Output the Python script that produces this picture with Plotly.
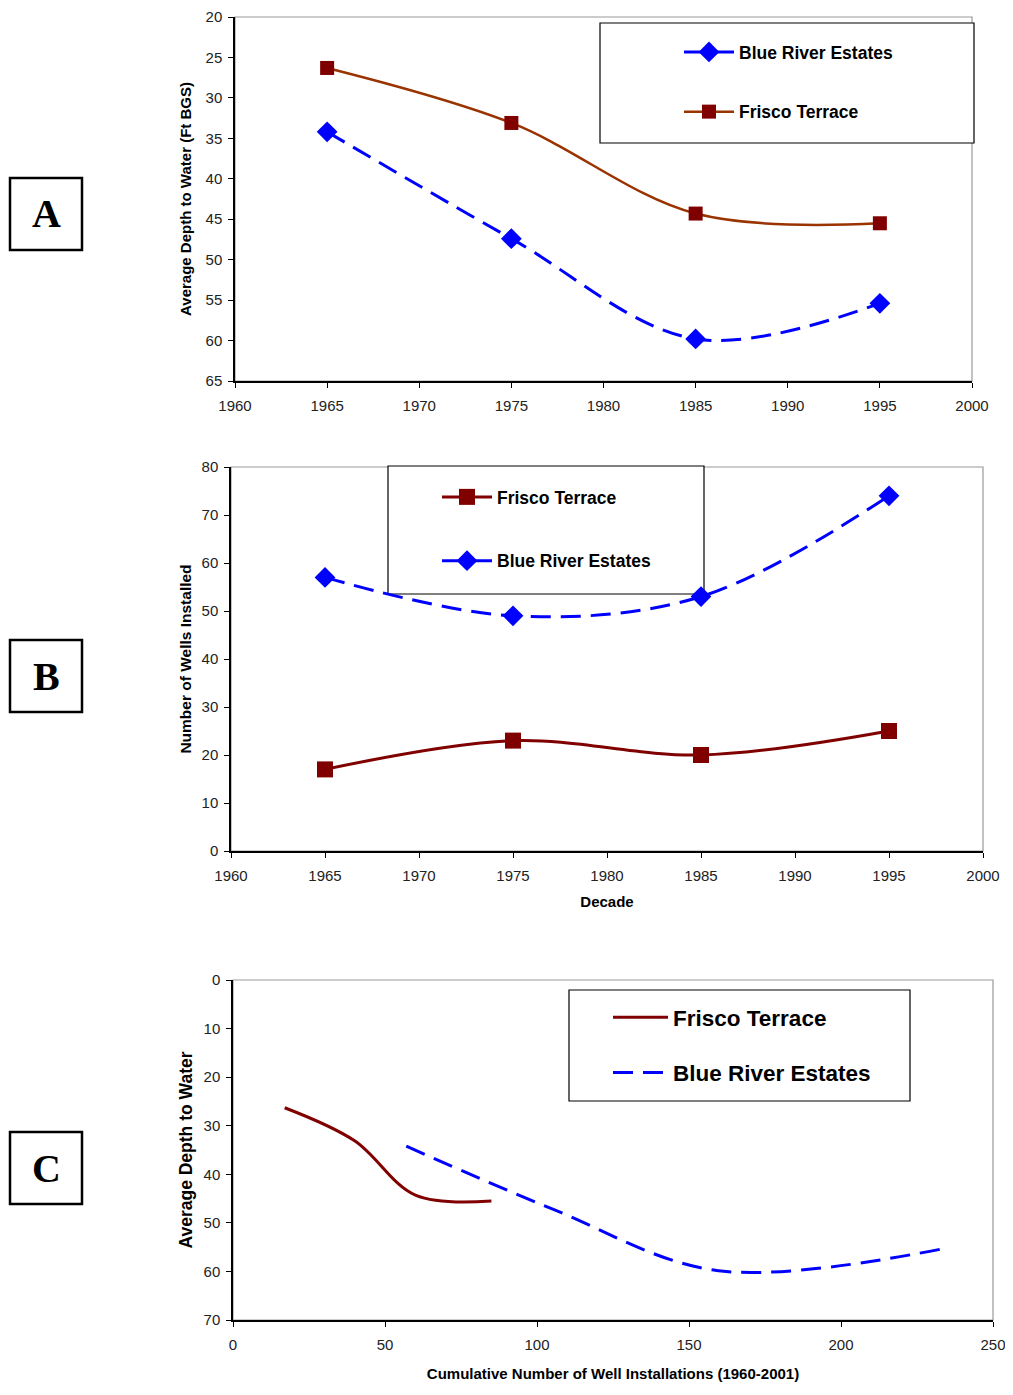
import plotly.graph_objects as go

# ---------------- data ----------------
years = [1965, 1975, 1985, 1995]
depth_blue = [34.2, 47.4, 59.8, 55.4]
depth_frisco = [26.3, 33.1, 44.3, 45.5]
wells_frisco = [17, 23, 20, 25]
wells_blue = [57, 49, 53, 74]

def cumsum(v):
    out, s = [], 0
    for x in v:
        s += x
        out.append(s)
    return out

cum_frisco = cumsum(wells_frisco)
cum_blue = cumsum(wells_blue)

# page body has an 8px margin; lay out in page pixel coordinates
OFF = 8
W, H = 1013 - 2 * OFF, 1395 - 2 * OFF
def px(x):
    return (x - OFF) / W
def py(y):
    return 1 - (y - OFF) / H

BLUE = "#0000FF"
MAROON = "#800000"
BROWN = "#993300"
DASH = "20px,10px"
FONT = "Liberation Sans, Arial, sans-serif"

fig = go.Figure()

# ---------- Panel A ----------
fig.add_trace(go.Scatter(
    x=years, y=depth_blue, name="Blue River Estates", xaxis="x", yaxis="y",
    mode="lines+markers", line=dict(color=BLUE, width=3, dash=DASH, shape="spline", smoothing=1),
    marker=dict(symbol="diamond", size=16, color=BLUE), legend="legend", legendgroup="a1"))
fig.add_trace(go.Scatter(
    x=years, y=depth_frisco, name="Frisco Terrace", xaxis="x", yaxis="y",
    mode="lines+markers", line=dict(color=BROWN, width=2.5, shape="spline", smoothing=1),
    marker=dict(symbol="square", size=14, color=MAROON), legend="legend", legendgroup="a2"))

# ---------- Panel B ----------
fig.add_trace(go.Scatter(
    x=years, y=wells_frisco, name="Frisco Terrace", xaxis="x2", yaxis="y2",
    mode="lines+markers", line=dict(color=MAROON, width=3, shape="spline", smoothing=1),
    marker=dict(symbol="square", size=16, color=MAROON), legend="legend2", legendgroup="b1"))
fig.add_trace(go.Scatter(
    x=years, y=wells_blue, name="Blue River Estates", xaxis="x2", yaxis="y2",
    mode="lines+markers", line=dict(color=BLUE, width=3, dash=DASH, shape="spline", smoothing=1),
    marker=dict(symbol="diamond", size=16, color=BLUE), legend="legend2", legendgroup="b2"))

# ---------- Panel C ----------
fig.add_trace(go.Scatter(
    x=cum_frisco, y=depth_frisco, name="Frisco Terrace", xaxis="x3", yaxis="y3",
    mode="lines", line=dict(color=MAROON, width=3, shape="spline", smoothing=1),
    legend="legend3", legendgroup="c1"))
fig.add_trace(go.Scatter(
    x=cum_blue, y=depth_blue, name="Blue River Estates", xaxis="x3", yaxis="y3",
    mode="lines", line=dict(color=BLUE, width=3, dash=DASH, shape="spline", smoothing=1),
    legend="legend3", legendgroup="c2"))

tickfont = dict(family=FONT, size=15, color="#222")

def xax(domain, anchor, rng, dtick, title=None, standoff=12):
    d = dict(domain=domain, anchor=anchor, range=rng, dtick=dtick, tick0=0, automargin=False,
             showgrid=False, zeroline=False, showline=True, linecolor="#000", linewidth=1.5,
             ticks="outside", ticklen=5, tickcolor="#000", tickfont=tickfont,
             ticklabeloverflow="allow", ticklabelstandoff=5)
    if title:
        d["title"] = dict(text=title, font=dict(family=FONT, size=15, color="#000", weight="bold"),
                          standoff=standoff)
    return d

def yax(domain, anchor, rng, dtick, title, tsize=15, standoff=10):
    return dict(domain=domain, anchor=anchor, range=rng, dtick=dtick, tick0=0, automargin=False,
                showgrid=False, zeroline=False, showline=True, linecolor="#000", linewidth=1.5,
                ticks="outside", ticklen=5, tickcolor="#000", tickfont=tickfont,
                ticklabeloverflow="allow", ticklabelstandoff=3,
                title=dict(text=title, font=dict(family=FONT, size=tsize, color="#000", weight="bold"),
                           standoff=standoff))

legfont = dict(family=FONT, size=17.5, color="#000", weight="bold")
legfontC = dict(family=FONT, size=22.5, color="#000", weight="bold")

fig.update_layout(
    width=W, height=H, margin=dict(l=0, r=0, t=0, b=0, autoexpand=False),
    paper_bgcolor="white", plot_bgcolor="white",
    xaxis=xax([px(235), px(972)], "y", [1960, 2000], 5),
    yaxis=yax([py(381), py(17)], "x", [65, 20], 5, "Average Depth to Water (Ft BGS)", 15, 10),
    xaxis2=xax([px(231), px(983)], "y2", [1960, 2000], 5, "Decade", 14),
    yaxis2=yax([py(851), py(467)], "x2", [0, 80], 10, "Number of Wells Installed", 15.5, 6),
    xaxis3=xax([px(233), px(993)], "y3", [0, 250], 50,
               "Cumulative Number of Well Installations (1960-2001)", 17),
    yaxis3=yax([py(1320), py(980)], "x3", [70, 0], 10, "Average Depth to Water", 17.5, 6),
    legend=dict(x=px(679), y=py(34), xanchor="left", yanchor="top", bgcolor="rgba(0,0,0,0)",
                borderwidth=0, font=legfont, itemwidth=50, traceorder="grouped", tracegroupgap=34),
    legend2=dict(x=px(437), y=py(479), xanchor="left", yanchor="top", bgcolor="rgba(0,0,0,0)",
                 borderwidth=0, font=legfont, itemwidth=50, traceorder="grouped", tracegroupgap=38),
    legend3=dict(x=px(608), y=py(996), xanchor="left", yanchor="top", bgcolor="rgba(0,0,0,0)",
                 borderwidth=0, font=legfontC, itemwidth=55, traceorder="grouped", tracegroupgap=23),
    showlegend=True,
)

shapes = []
# gray frame around plot areas (top/right)
for xr, yr in (("x domain", "y domain"), ("x2 domain", "y2 domain"), ("x3 domain", "y3 domain")):
    shapes.append(dict(type="rect", xref=xr, yref=yr, x0=0, x1=1, y0=0, y1=1,
                       line=dict(color="#999", width=1.2), layer="below"))
# legend boxes
for (x0, x1, y0, y1) in ((600, 974, 23, 143), (388, 704, 466, 594), (569, 910, 990, 1101)):
    shapes.append(dict(type="rect", xref="paper", yref="paper", x0=px(x0), x1=px(x1), y0=py(y1), y1=py(y0),
                       line=dict(color="#000", width=1.2), fillcolor="white", layer="below"))
# panel label boxes
labels = [("A", 178, 250), ("B", 640, 712), ("C", 1132, 1204)]
annotations = []
for t, y0, y1 in labels:
    shapes.append(dict(type="rect", xref="paper", yref="paper", x0=px(10), x1=px(82), y0=py(y1), y1=py(y0),
                       line=dict(color="#000", width=2.5), fillcolor="white"))
    annotations.append(dict(text=t, xref="paper", yref="paper", x=px(46), y=py((y0 + y1) / 2),
                            xanchor="center", yanchor="middle", showarrow=False,
                            font=dict(family="Liberation Serif, Times New Roman, serif", size=40,
                                      color="#000", weight="bold")))
fig.update_layout(shapes=shapes, annotations=annotations)

fig.write_html("out.html")
